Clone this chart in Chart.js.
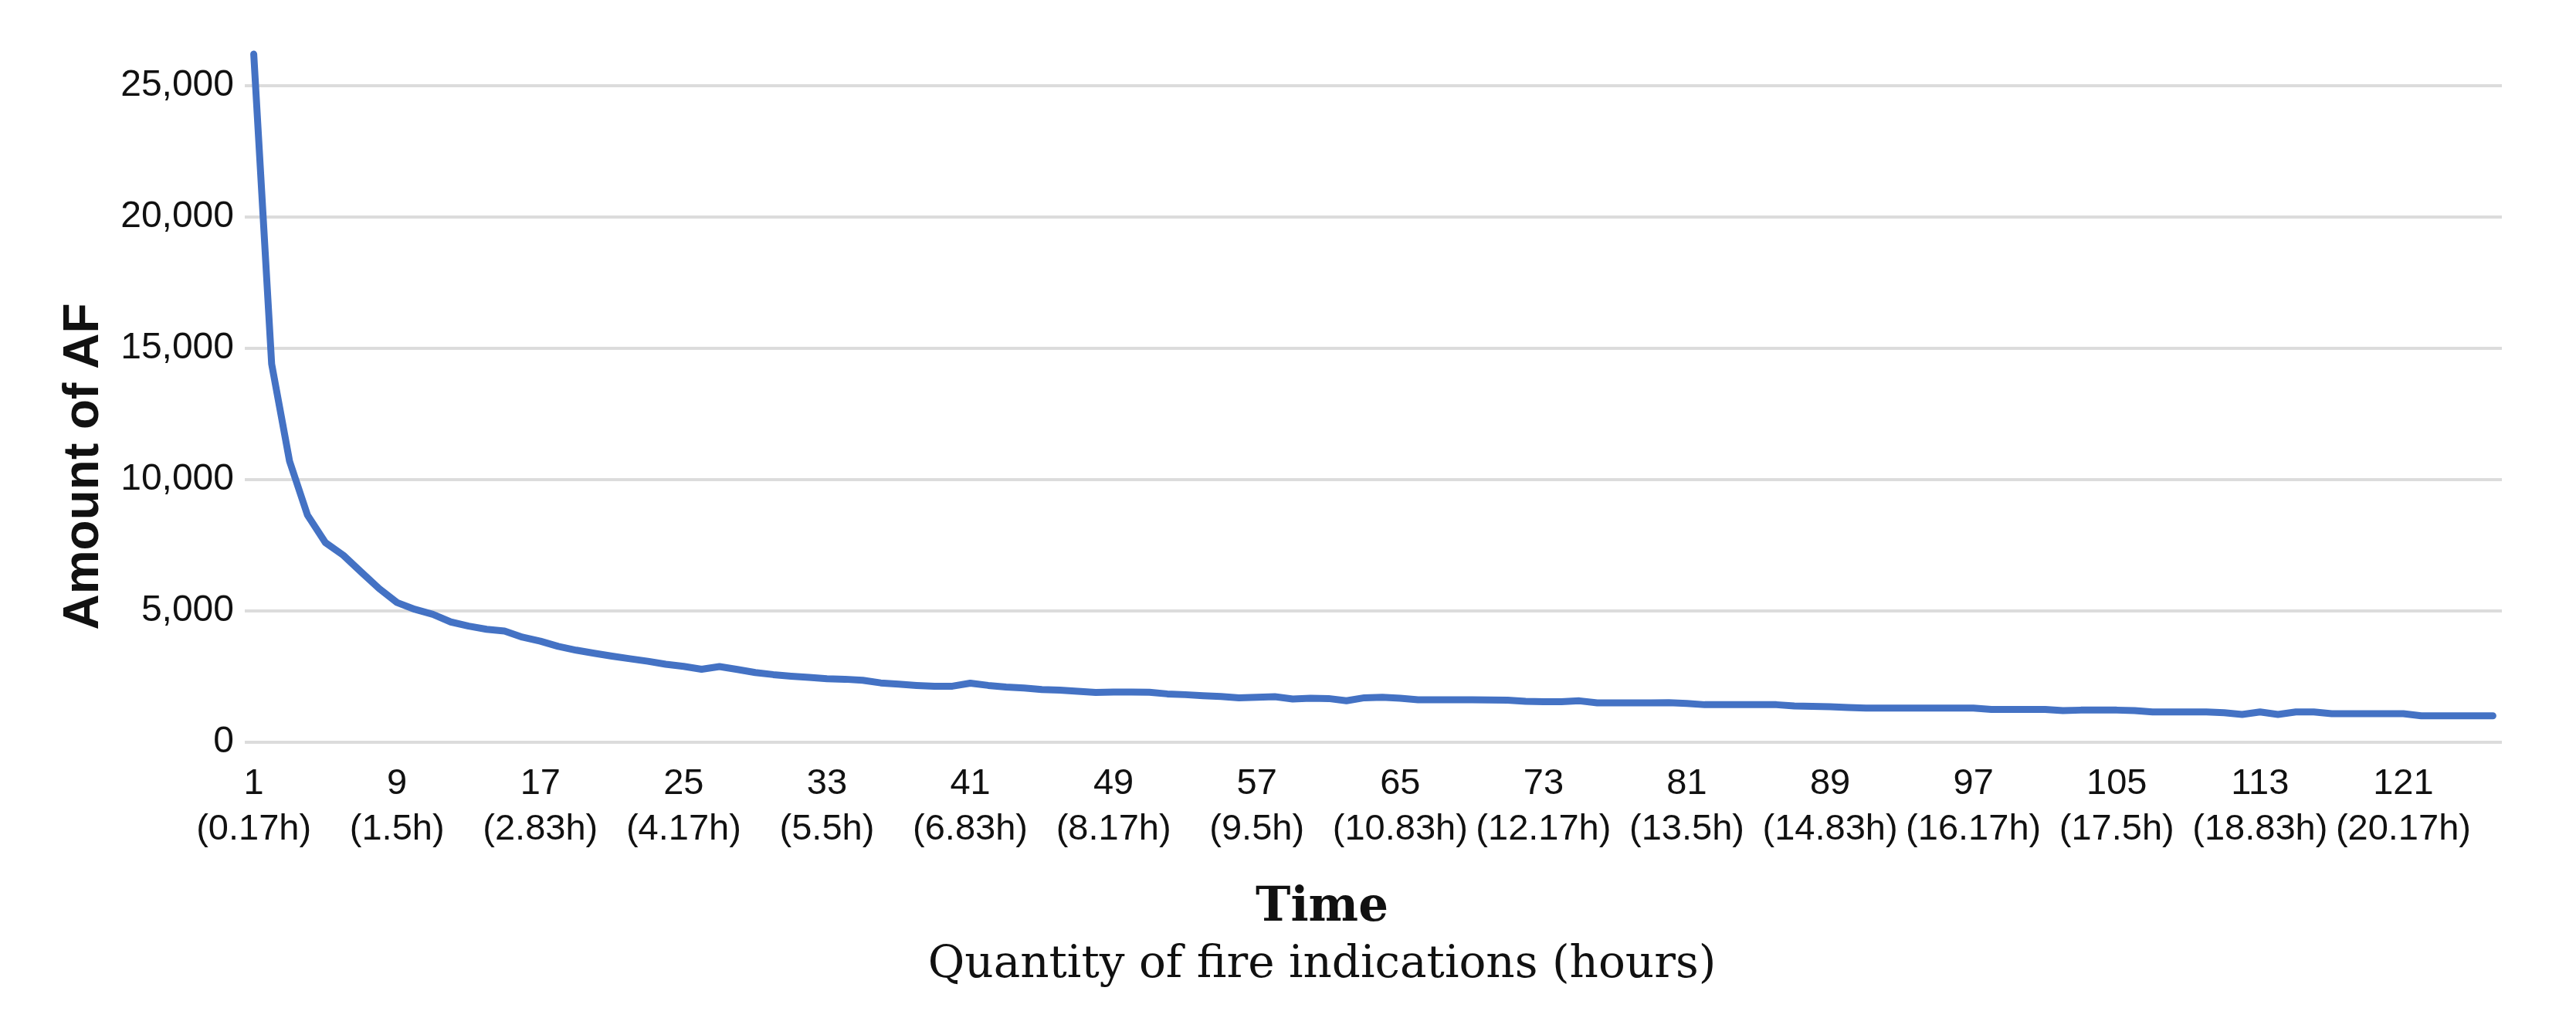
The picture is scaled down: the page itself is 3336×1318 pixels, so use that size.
<!DOCTYPE html>
<html>
<head>
<meta charset="utf-8">
<script src="https://cdn.jsdelivr.net/npm/chart.js@4.4.1/dist/chart.umd.min.js"></script>
<style>
  html, body { margin: 0; padding: 0; background: #ffffff; }
  canvas { display: block; }
</style>
</head>
<body>
<canvas id="afChart" width="3336" height="1318"></canvas>
<script>
// Fire indication index (one every 10 minutes)
const categories = [
    1, 2, 3, 4, 5, 6, 7, 8, 9, 10, 11, 12, 13, 14, 15, 16, 17, 18, 19, 20,
    21, 22, 23, 24, 25, 26, 27, 28, 29, 30, 31, 32, 33, 34, 35, 36, 37, 38, 39, 40,
    41, 42, 43, 44, 45, 46, 47, 48, 49, 50, 51, 52, 53, 54, 55, 56, 57, 58, 59, 60,
    61, 62, 63, 64, 65, 66, 67, 68, 69, 70, 71, 72, 73, 74, 75, 76, 77, 78, 79, 80,
    81, 82, 83, 84, 85, 86, 87, 88, 89, 90, 91, 92, 93, 94, 95, 96, 97, 98, 99, 100,
    101, 102, 103, 104, 105, 106, 107, 108, 109, 110, 111, 112, 113, 114, 115, 116, 117, 118, 119, 120,
    121, 122, 123, 124, 125, 126
];

// Amount of AF
const amountAF = [
    26200, 14400, 10700, 8650, 7600, 7120, 6480, 5850, 5320, 5060,
    4870, 4580, 4420, 4300, 4235, 4000, 3850, 3650, 3505, 3390,
    3280, 3180, 3085, 2970, 2888, 2780, 2880, 2771, 2654, 2576,
    2517, 2468, 2419, 2400, 2360, 2260, 2213, 2164, 2130, 2135,
    2250, 2164, 2105, 2066, 2007, 1988, 1939, 1895, 1910, 1910,
    1905, 1841, 1812, 1773, 1743, 1694, 1710, 1733, 1645, 1675,
    1665, 1580, 1694, 1714, 1675, 1616, 1616, 1616, 1616, 1610,
    1600, 1560, 1547, 1547, 1577, 1498, 1498, 1498, 1498, 1510,
    1479, 1430, 1430, 1430, 1430, 1430, 1381, 1371, 1351, 1322,
    1302, 1302, 1302, 1302, 1302, 1302, 1302, 1253, 1253, 1253,
    1253, 1205, 1224, 1224, 1224, 1205, 1156, 1156, 1156, 1156,
    1126, 1058, 1156, 1058, 1156, 1156, 1087, 1087, 1087, 1087,
    1087, 1008, 1008, 1008, 1008, 1008
];

// Labelled ticks and their hour equivalents
const tickLabels = ['1', '9', '17', '25', '33', '41', '49', '57', '65', '73', '81', '89', '97', '105', '113', '121'];
const hourLabels = ['(0.17h)', '(1.5h)', '(2.83h)', '(4.17h)', '(5.5h)', '(6.83h)', '(8.17h)', '(9.5h)',
    '(10.83h)', '(12.17h)', '(13.5h)', '(14.83h)', '(16.17h)', '(17.5h)', '(18.83h)', '(20.17h)'];

const yTicks = [0, 5000, 10000, 15000, 20000, 25000];

const axisTitles = {
    id: 'axisTitles',
    afterDraw(chart) {
        const ctx = chart.ctx;
        ctx.save();
        ctx.fillStyle = '#111111';

        // y axis title, rotated
        ctx.save();
        ctx.translate(127, 604);
        ctx.rotate(-Math.PI / 2);
        ctx.font = 'bold 64px "Liberation Sans", Arial, sans-serif';
        ctx.textAlign = 'center';
        ctx.textBaseline = 'alphabetic';
        ctx.fillText('Amount of AF', 0, 0);
        ctx.restore();

        // x axis titles
        ctx.textAlign = 'center';
        ctx.textBaseline = 'alphabetic';
        ctx.font = 'bold 61px "DejaVu Serif", serif';
        ctx.fillText('Time', 1712, 1192);
        ctx.font = '58px "DejaVu Serif", serif';
        ctx.fillText('Quantity of fire indications (hours)', 1712, 1265);
        ctx.restore();
    }
};

const ctx = document.getElementById('afChart').getContext('2d');
const afChart = new Chart(ctx, {
    type: 'line',
    data: {
        labels: categories,
        datasets: [{
            label: 'Amount of AF',
            data: amountAF,
            borderColor: '#4472c4',
            borderWidth: 9,
            borderCapStyle: 'round',
            borderJoinStyle: 'round',
            pointRadius: 0,
            tension: 0,
            fill: false
        }]
    },
    options: {
        responsive: false,
        animation: false,
        devicePixelRatio: 1,
        layout: { padding: { top: 42, right: 96, left: 0, bottom: 0 } },
        plugins: {
            legend: { display: false },
            tooltip: { enabled: false }
        },
        scales: {
            x: {
                type: 'category',
                offset: true,
                grid: { display: false, drawTicks: false },
                border: { display: false },
                afterFit(scale) { scale.height = 357; },
                ticks: {
                    autoSkip: false,
                    maxRotation: 0,
                    minRotation: 0,
                    padding: 24,
                    color: '#111111',
                    font: { family: '"Liberation Sans", Arial, sans-serif', size: 47, lineHeight: 1.266 },
                    callback(value, index) {
                        const j = tickLabels.indexOf(String(categories[index]));
                        return j === -1 ? '' : [tickLabels[j], hourLabels[j]];
                    }
                }
            },
            y: {
                min: 0,
                max: 27000,
                grid: { color: '#dcdcdc', lineWidth: 4, drawTicks: false },
                border: { display: false },
                afterFit(scale) { scale.width = 317; },
                afterBuildTicks(scale) {
                    scale.ticks = yTicks.map(v => ({ value: v }));
                },
                ticks: {
                    padding: 14,
                    color: '#111111',
                    font: { family: '"Liberation Sans", Arial, sans-serif', size: 48 },
                    callback: (value) => value.toLocaleString('en-US')
                }
            }
        }
    },
    plugins: [axisTitles]
});
</script>
</body>
</html>
